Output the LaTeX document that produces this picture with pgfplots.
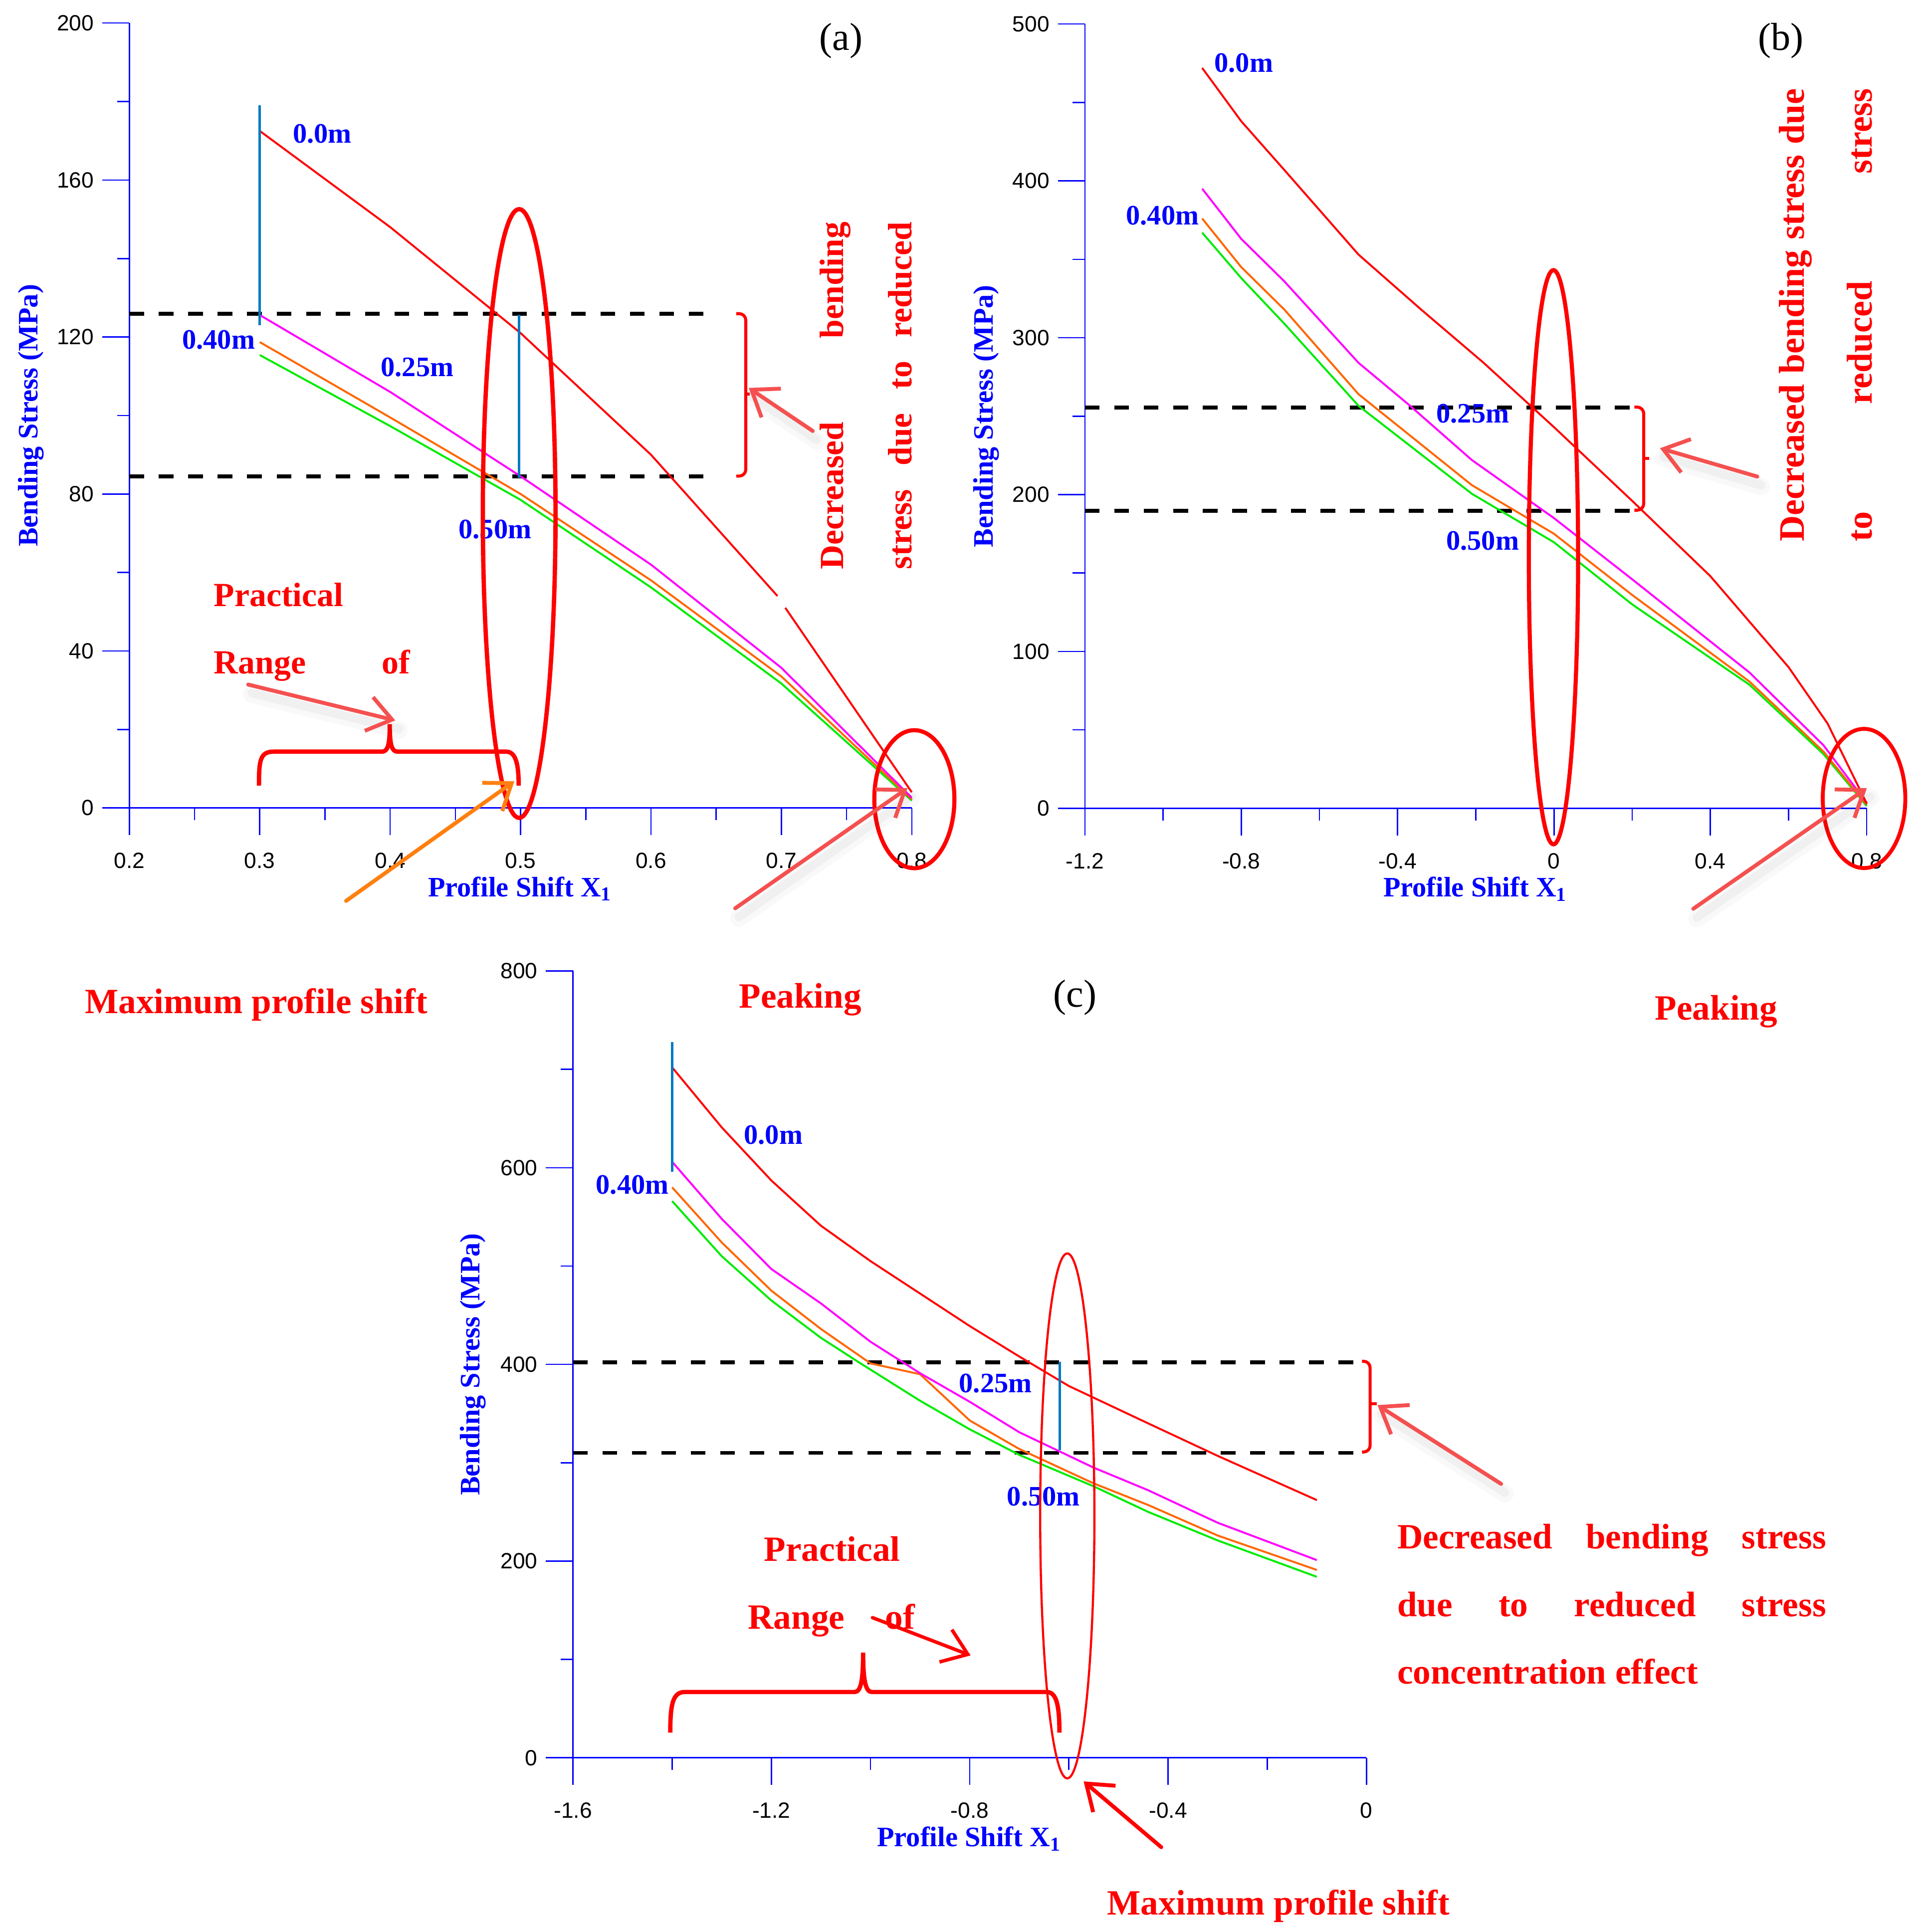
\documentclass[border=0pt]{standalone}
\usepackage{fontspec}
\setmainfont{Liberation Serif}
\setsansfont{Liberation Sans}
\usepackage{pgfplots}
\pgfplotsset{compat=1.18}
\usetikzlibrary{arrows.meta}

\definecolor{cred}{RGB}{255,0,0}
\definecolor{cmag}{RGB}{255,0,255}
\definecolor{corange}{RGB}{255,102,0}
\definecolor{cgreen}{RGB}{0,235,0}
\definecolor{cblue}{RGB}{0,0,255}
\definecolor{cbar}{RGB}{0,122,194}
\definecolor{larrow}{RGB}{245,80,80}
\definecolor{oarrow}{RGB}{255,128,16}

\newcommand{\redfont}{\fontsize{7.8}{8}\selectfont\bfseries\color{cred}}
\newcommand{\redfontb}{\fontsize{8.3}{8.5}\selectfont\bfseries\color{cred}}
\newcommand{\bigred}{\fontsize{8.2}{8.5}\selectfont\bfseries\color{cred}}
\newcommand{\bluefont}{\fontsize{6.5}{7}\selectfont\bfseries\color{cblue}}

\pgfplotsset{
  panel/.style={
    scale only axis,
    axis lines*=left,
    axis line style={cblue, line width=0.3pt},
    every tick/.style={cblue, line width=0.3pt},
    tick align=outside,
    major tick length=0.22cm,
    minor tick length=0.1cm,
    minor x tick num=1,
    minor y tick num=1,
    ticklabel style={font=\fontsize{5.1}{5.5}\selectfont\sffamily, text=black},
    xticklabel shift=0.6pt,
    yticklabel shift=-1.6pt,
    clip=false,
    every axis y label/.style={at={(axis description cs:-0.126,0.5)}, rotate=90, anchor=center,
      font=\bluefont},
    every axis x label/.style={at={(axis description cs:0.5,-0.103)}, anchor=center,
      font=\bluefont},
    xlabel={Profile Shift X\textsubscript{1}},
    ylabel={Bending Stress (MPa)},
    every axis plot/.append style={line width=0.45pt},
  },
  dline/.style={black, line width=0.9pt, dash pattern=on 3.4pt off 3.4pt},
  vbar/.style={cbar, line width=0.55pt},
}

\begin{document}
\begin{tikzpicture}
\path[use as bounding box] (0,0) rectangle (15.66cm,-15.68cm);

% ---------------- (a)
\begin{axis}[panel, at={(1.05cm,-6.557cm)}, anchor=south west,
  width=6.35cm, height=6.37cm,
  xmin=0.2, xmax=0.8, ymin=0, ymax=200,
  xtick={0.2,0.3,0.4,0.5,0.6,0.7,0.8},
  xticklabels={0.2,0.3,0.4,0.5,0.6,0.7,0.8},
  ytick={0,40,80,120,160,200},
  yticklabels={0,40,80,120,160,200}]
\addplot[dline] coordinates {(0.2,125.9) (0.649,125.9)};
\addplot[dline] coordinates {(0.2,84.5) (0.649,84.5)};
\addplot[cgreen] coordinates {(0.3,115.4) (0.4,97.3) (0.5,78.5) (0.6,56.2) (0.7,31.7) (0.8,1.9)};
\addplot[corange] coordinates {(0.3,118.7) (0.4,99.5) (0.5,80) (0.6,58) (0.7,33.5) (0.8,2.2)};
\addplot[cmag] coordinates {(0.3,125.6) (0.4,106) (0.5,84.5) (0.6,62) (0.7,35.7) (0.8,2.6)};
\addplot[cred] coordinates {(0.3,172.5) (0.4,148) (0.5,121) (0.6,90) (0.697,54)};
\addplot[cred] coordinates {(0.703,51) (0.8,4)};
\addplot[vbar] coordinates {(0.3,123) (0.3,179)};
\addplot[vbar] coordinates {(0.4987,84.1) (0.4987,125.7)};
\end{axis}

% ---------------- (b)
\begin{axis}[panel, at={(8.805cm,-6.56cm)}, anchor=south west,
  width=6.345cm, height=6.365cm,
  xmin=-1.2, xmax=0.8, ymin=0, ymax=500,
  xtick={-1.2,-0.8,-0.4,0,0.4,0.8},
  xticklabels={-1.2,-0.8,-0.4,0,0.4,0.8},
  ytick={0,100,200,300,400,500},
  yticklabels={0,100,200,300,400,500}]
\addplot[dline] coordinates {(-1.2,255.4) (0.224,255.4)};
\addplot[dline] coordinates {(-1.2,189.7) (0.224,189.7)};
\addplot[cgreen] coordinates {(-0.9,367) (-0.8,338) (-0.69,309) (-0.5,256.6) (-0.21,200.5) (0,169.6) (0.2,130) (0.5,78.8) (0.69,34.4) (0.8,1.5)};
\addplot[corange] coordinates {(-0.9,376) (-0.8,345) (-0.69,318) (-0.5,264) (-0.21,206) (0,175) (0.2,136) (0.5,80.8) (0.69,36) (0.8,2.3)};
\addplot[cmag] coordinates {(-0.9,395) (-0.8,363) (-0.69,336) (-0.5,284) (-0.37,257) (-0.21,222) (0,185) (0.2,146) (0.5,86.6) (0.69,40) (0.8,3.5)};
\addplot[cred] coordinates {(-0.9,472) (-0.8,438) (-0.69,407) (-0.5,353) (-0.34,318) (-0.18,284) (0,243) (0.2,196) (0.4,148) (0.5,119) (0.6,90) (0.7,54) (0.8,3)};
\end{axis}

% ---------------- (c)
\begin{axis}[panel, at={(4.65cm,-14.266cm)}, anchor=south west,
  width=6.44cm, height=6.386cm,
  xmin=-1.6, xmax=0, ymin=0, ymax=800,
  xtick={-1.6,-1.2,-0.8,-0.4,0},
  xticklabels={-1.6,-1.2,-0.8,-0.4,0},
  ytick={0,200,400,600,800},
  yticklabels={0,200,400,600,800}]
\addplot[dline] coordinates {(-1.6,402.3) (-0.007,402.3)};
\addplot[dline] coordinates {(-1.6,310) (-0.007,310)};
\addplot[cgreen] coordinates {(-1.4,566) (-1.3,510) (-1.2,465) (-1.1,427) (-1.02,401) (-0.9,363) (-0.8,334) (-0.7,308) (-0.55,276) (-0.44,250) (-0.3,221) (-0.1,184)};
\addplot[corange] coordinates {(-1.4,580) (-1.3,524) (-1.2,475) (-1.1,436) (-1.0,401) (-0.9,390) (-0.8,343) (-0.7,314) (-0.55,279) (-0.44,257) (-0.3,226) (-0.1,191)};
\addplot[cmag] coordinates {(-1.4,606) (-1.3,548) (-1.2,497) (-1.1,462) (-1.0,423) (-0.9,391) (-0.8,362) (-0.7,331) (-0.55,295) (-0.44,272) (-0.3,239) (-0.1,201)};
\addplot[cred] coordinates {(-1.4,702) (-1.3,641) (-1.2,587) (-1.1,541) (-1.0,505) (-0.9,472) (-0.8,439) (-0.7,408) (-0.6,378) (-0.44,340) (-0.3,307) (-0.1,262)};
\addplot[vbar] coordinates {(-1.4,596) (-1.4,727.5)};
\addplot[vbar] coordinates {(-0.618,313) (-0.618,402.5)};
\end{axis}

% ---------------- annotations (coordinates in px of a 1566 x 1568 frame)
\begin{scope}[x=0.01cm, y=-0.01cm]
  % panel tags
  \node[font=\fontsize{9}{9}\selectfont] at (683,33) {(a)};
  \node[font=\fontsize{9}{9}\selectfont] at (1446,33) {(b)};
  \node[font=\fontsize{9}{9}\selectfont] at (873,810) {(c)};

  % curve labels
  \begin{scope}[every node/.style={font=\bluefont, inner sep=0pt}]
    \node at (261.6,108.8) {0.0m};
    \node at (177.5,275.8) {0.40m};
    \node at (338.8,298) {0.25m};
    \node at (402,430) {0.50m};
    \node at (1010,51) {0.0m};
    \node at (944,175) {0.40m};
    \node at (1196,336) {0.25m};
    \node at (1204,439) {0.50m};
    \node at (628,921.6) {0.0m};
    \node at (513.5,962.3) {0.40m};
    \node at (808.4,1123.5) {0.25m};
    \node at (847.3,1215.4) {0.50m};
  \end{scope}

  % ellipses
  \draw[cred, line width=1pt] (421.6,417) ellipse [x radius=0.295cm, y radius=2.47cm];
  \draw[cred, line width=0.95pt] (742.5,649) ellipse [x radius=0.325cm, y radius=0.56cm];
  \draw[cred, line width=0.95pt] (1261.5,452.5) ellipse [x radius=0.2cm, y radius=2.33cm];
  \draw[cred, line width=0.9pt] (1513.7,648.4) ellipse [x radius=0.335cm, y radius=0.565cm];
  \draw[cred, line width=0.5pt] (866.7,1231) ellipse [x radius=0.22cm, y radius=2.13cm];

  % braces
  \draw[cred, line width=1pt] (210.3,638) .. controls (210.3,618) and (211,610.4) .. (222,610.4)
     -- (310,610.4) .. controls (315,610.4) and (316.5,605) .. (316.5,588)
     .. controls (316.5,605) and (318,610.4) .. (323,610.4)
     -- (411,610.4) .. controls (418,610.4) and (421.2,618) .. (421.2,638);
  \draw[cred, line width=1pt] (544.3,1407) .. controls (544.3,1385) and (546,1374) .. (556,1374)
     -- (694,1374) .. controls (699,1374) and (700.9,1365) .. (700.9,1342)
     .. controls (700.9,1365) and (703,1374) .. (708,1374)
     -- (850,1374) .. controls (858,1374) and (860.3,1385) .. (860.3,1407);

  % brackets
  \draw[cred, line width=0.7pt, rounded corners=1.5pt] (597.8,254.7) -- (605.6,254.7) -- (605.6,386.6) -- (597.8,386.6);
  \draw[cred, line width=0.7pt] (605.6,319.9) -- (609,319.9);
  \draw[cred, line width=0.7pt, rounded corners=1.5pt] (1327.2,330.6) -- (1334.8,330.6) -- (1334.8,414.3) -- (1327.2,414.3);
  \draw[cred, line width=0.7pt] (1334.8,372.4) -- (1339,372.4);
  \draw[cred, line width=0.7pt, rounded corners=1.5pt] (1106,1105.4) -- (1112.6,1105.4) -- (1112.6,1179.1) -- (1106,1179.1);
  \draw[cred, line width=0.7pt] (1112.6,1140) -- (1118,1140);

  % arrows
  \begin{scope}[line cap=round, >={Straight Barb[length=5.5pt, width=8pt]}]
    \foreach \a/\b in {{(660,350)}/{(608,315)}, {(201.5,555.9)}/{(321,585)}, {(597,737.6)}/{(737,640)},
                       {(1427,387)}/{(1348,364)}, {(1375,738)}/{(1516,640)}, {(1219,1205)}/{(1118.6,1141)}}{
      \draw[black, opacity=0.025, line width=4pt, shift={(3,8)}] \a -- \b;
      \draw[black, opacity=0.035, line width=2pt, shift={(3,7)}] \a -- \b;
      \draw[larrow, line width=0.9pt, ->] \a -- \b;
    }
    \draw[oarrow, line width=0.9pt, ->] (281,731.6) -- (417.7,634.4);
    \draw[cred, line width=0.8pt, ->] (708.5,1313.6) -- (788.2,1344.3);
    \draw[cred, line width=0.9pt, ->] (943,1500) -- (880,1446.6);
  \end{scope}

  % red notes, panel (a)
  \node[font=\redfont, anchor=base west, inner sep=0pt] at (173,492.4) {Practical};
  \node[font=\redfont, anchor=base west, inner sep=0pt] at (173,547) {Range};
  \node[font=\redfont, anchor=base west, inner sep=0pt] at (309.5,547) {of};
  \node[font=\redfont, anchor=base west, inner sep=0pt, rotate=90] at (684.6,463) {\hbox to 2.82cm{Decreased bending}};
  \node[font=\redfont, anchor=base west, inner sep=0pt, rotate=90] at (740.3,463) {\hbox to 2.82cm{stress due to reduced}};

  % red notes, panel (b)
  \node[font=\redfontb, anchor=base west, inner sep=0pt, rotate=90] at (1465,440.3) {\hbox to 3.675cm{Decreased bending stress due}};
  \node[font=\redfontb, anchor=base west, inner sep=0pt, rotate=90] at (1520,440.3) {\hbox to 3.675cm{to reduced stress}};

  % red notes, middle and panel (c)
  \node[font=\bigred, anchor=base west, inner sep=0pt] at (68.3,823) {Maximum profile shift};
  \node[font=\bigred, anchor=base west, inner sep=0pt] at (599.5,818.5) {Peaking};
  \node[font=\bigred, anchor=base west, inner sep=0pt] at (1343.3,828) {Peaking};
  \node[font=\bigred, anchor=base west, inner sep=0pt] at (619.8,1267.6) {Practical};
  \node[font=\bigred, anchor=base west, inner sep=0pt] at (606.7,1322.8) {Range};
  \node[font=\bigred, anchor=base west, inner sep=0pt] at (718.2,1322.8) {of};
  \node[font=\bigred, anchor=base west, inner sep=0pt] at (1134,1257.4) {\hbox to 3.48cm{Decreased bending stress}};
  \node[font=\bigred, anchor=base west, inner sep=0pt] at (1134,1312.6) {\hbox to 3.48cm{due to reduced stress}};
  \node[font=\bigred, anchor=base west, inner sep=0pt] at (1134,1367.3) {concentration effect};
  \node[font=\bigred, anchor=base west, inner sep=0pt] at (898.4,1555) {Maximum profile shift};
\end{scope}
\end{tikzpicture}
\end{document}
